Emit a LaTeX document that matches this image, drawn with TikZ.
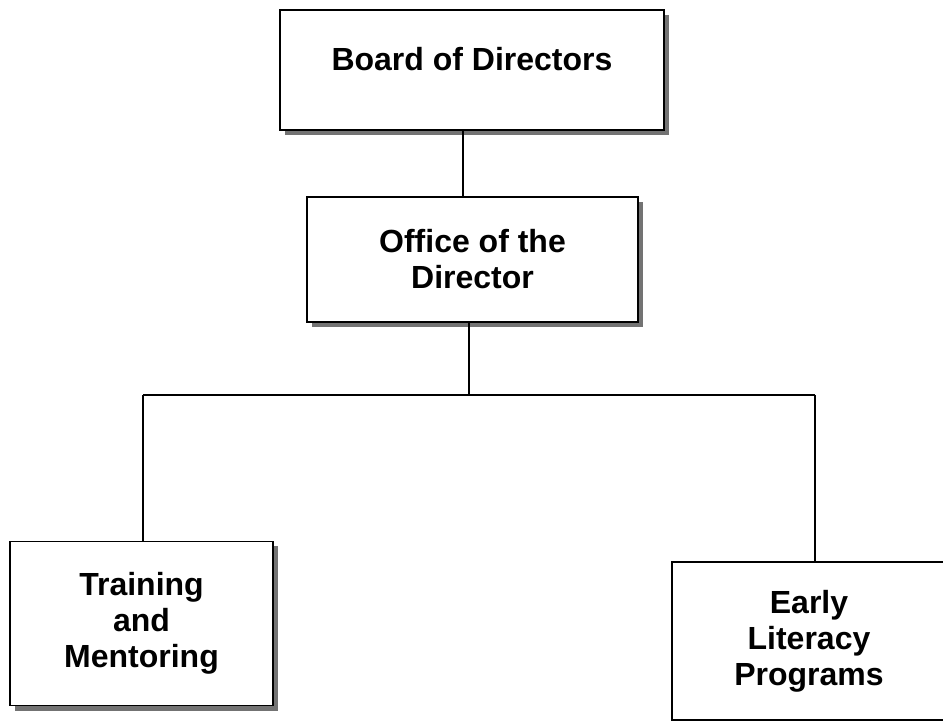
\documentclass[tikz,border=0pt]{standalone}
\usepackage{fontspec}
\setmainfont{Liberation Sans}
\usetikzlibrary{shadows}

\tikzset{
  orgbox/.style={draw, rectangle, fill=white, line width=0.85pt, inner sep=0pt, outer sep=0pt,
    align=center, font=\bfseries\fontsize{16}{18}\selectfont,
    drop shadow={shadow xshift=2.5pt, shadow yshift=-2.5pt, fill=black!55, opacity=1}},
  orgline/.style={line width=0.8pt}
}

\begin{document}
\begin{tikzpicture}[x=0.5pt, y=-0.5pt]
    \useasboundingbox (0,0) rectangle (943,721);
    \clip (0,0) rectangle (943,721);

    \node[orgbox, minimum width=192pt, minimum height=60pt, text depth=11pt] at (472,70) (board) {Board of Directors};
    \node[orgbox, minimum width=165.5pt, minimum height=62.5pt] at (472.5,259.5) (office) {Office of the\\Director};
    \node[orgbox, minimum width=131.5pt, minimum height=82pt] at (141.5,623.5) (training) {Training\\and\\Mentoring};
    \node[orgbox, minimum width=137pt, minimum height=79pt] at (809,641) (literacy) {Early\\Literacy\\Programs};

    \coordinate (hub) at (469,395);
    \coordinate (lefthub) at (143,395);
    \coordinate (righthub) at (815,395);

    \draw[orgline] ([xshift=-4.5pt]board.south) -- ([xshift=-4.5pt]board.south |- office.north);
    \draw[orgline] (office.south -| hub) -- (hub);
    \draw[orgline] (lefthub) -- (righthub);
    \draw[orgline] (lefthub) -- (training.north -| lefthub);
    \draw[orgline] (righthub) -- (literacy.north -| righthub);
  \end{tikzpicture}
\end{document}
